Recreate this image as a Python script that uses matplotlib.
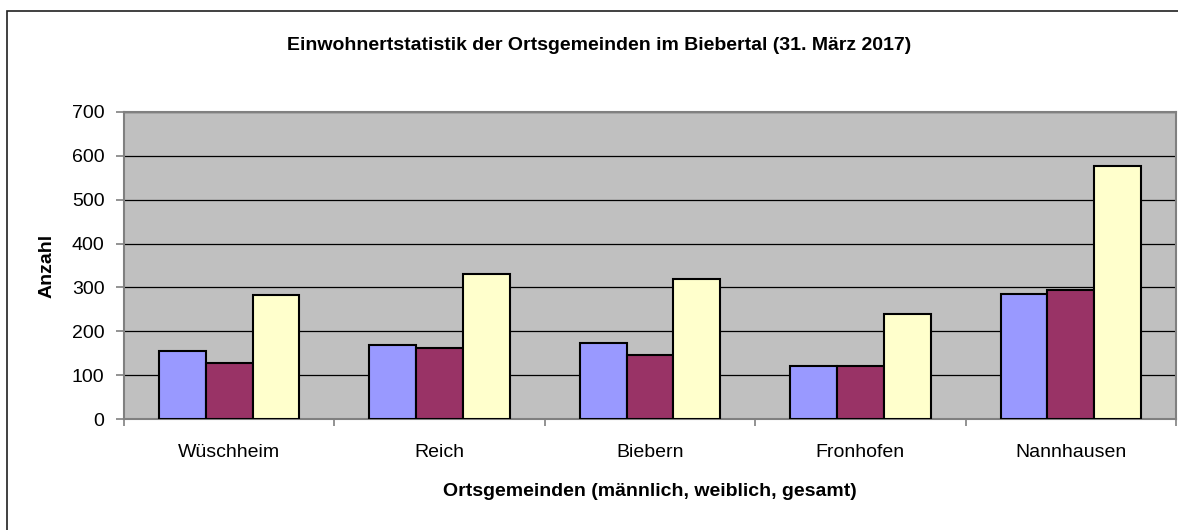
import numpy as np
import matplotlib
matplotlib.use("Agg")
import matplotlib.pyplot as plt
from matplotlib.patches import Rectangle

plt.rcParams['font.family'] = ['Liberation Sans', 'DejaVu Sans']

orte = ["Wüschheim", "Reich", "Biebern", "Fronhofen", "Nannhausen"]
maennlich = [155, 168, 174, 120, 284]
weiblich = [127, 163, 146, 120, 293]
gesamt = [282, 331, 320, 240, 577]

farben = ["#9999FF", "#993366", "#FFFFCC"]
W, H = 1178, 530

fig = plt.figure(figsize=(W / 100, H / 100), dpi=100)
ax = fig.add_axes([124 / W, 1 - 419 / H, 1052 / W, 307 / H])
ax.set_facecolor("#C0C0C0")

# Rahmen um den Diagrammbereich (rechts und unten abgeschnitten)
fig.patches.append(Rectangle((7 / W, -0.1), 1.2, 1 - 11 / H + 0.1,
                             transform=fig.transFigure, fill=False,
                             edgecolor="#202020", linewidth=1.2))

x = np.arange(len(orte))
bw = 2 / 9
for i, (werte, f) in enumerate(zip([maennlich, weiblich, gesamt], farben)):
    ax.bar(x + (i - 1) * bw, werte, width=bw, color=f, edgecolor="black",
           linewidth=1.5, zorder=3)

ax.set_xlim(-0.5, len(orte) - 0.5)
ax.set_ylim(0, 700)
ax.set_yticks(range(0, 701, 100))
ax.yaxis.grid(True, color="black", linewidth=0.9, zorder=1)
ax.set_axisbelow(True)

ax.set_xticks(np.arange(-0.5, len(orte), 1.0))
ax.set_xticklabels([])
ax.set_xticks(x, minor=True)
ax.set_xticklabels(orte, minor=True)
ax.tick_params(axis="x", which="minor", length=0, pad=18, labelsize=14)
ax.tick_params(axis="x", which="major", length=5, color="#808080", width=1.2)
ax.tick_params(axis="y", length=6, color="#808080", width=1.2, pad=8,
               labelsize=14)

for s in ax.spines.values():
    s.set_color("#808080")
    s.set_linewidth(1.5)

ax.set_ylabel("Anzahl", fontsize=14, fontweight="bold", labelpad=12)
ax.set_xlabel("Ortsgemeinden (männlich, weiblich, gesamt)", fontsize=14,
              fontweight="bold", labelpad=16)
fig.text(599 / W, 1 - 45 / H,
         "Einwohnertstatistik der Ortsgemeinden im Biebertal (31. März 2017)",
         ha="center", va="center", fontsize=14, fontweight="bold")

fig.savefig("out.png", dpi=100)
